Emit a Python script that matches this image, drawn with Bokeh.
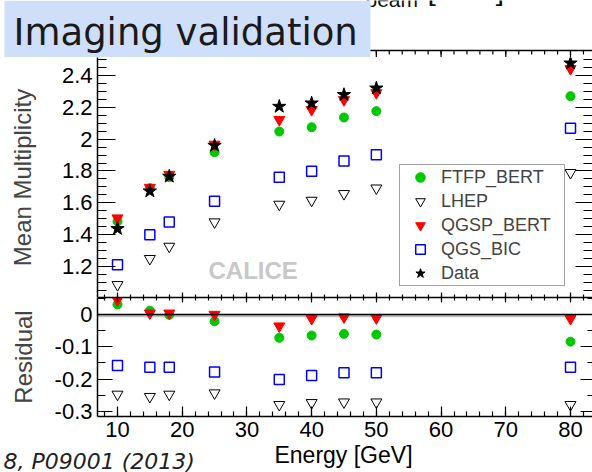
from bokeh.plotting import figure
from bokeh.layouts import column
from bokeh.models import (Range1d, LinearAxis, FixedTicker, CustomJSTickFormatter,
                          Label, Legend, LegendItem, Span)
from bokeh.core.properties import value
from bokeh.embed import file_html
from bokeh.resources import INLINE

# ---------------- data ----------------
energy = [10, 15, 18, 25, 35, 40, 45, 50, 80]

mult_ftfp_bert = [1.483, 1.692, 1.761, 1.918, 2.048, 2.075, 2.136, 2.176, 2.270]
mult_lhep      = [1.085, 1.249, 1.326, 1.479, 1.590, 1.615, 1.657, 1.692, 1.789]
mult_qgsp_bert = [1.504, 1.696, 1.778, 1.967, 2.122, 2.185, 2.247, 2.291, 2.442]
mult_qgs_bic   = [1.211, 1.399, 1.479, 1.610, 1.761, 1.799, 1.862, 1.902, 2.069]
mult_data      = [1.437, 1.673, 1.766, 1.960, 2.205, 2.226, 2.279, 2.320, 2.477]

res_ftfp_bert = [0.031, 0.012, -0.001, -0.021, -0.072, -0.065, -0.060, -0.062, -0.084]
res_lhep      = [-0.247, -0.254, -0.247, -0.243, -0.279, -0.273, -0.271, -0.271, -0.279]
res_qgsp_bert = [0.045, 0.004, 0.004, 0.000, -0.036, -0.013, -0.008, -0.011, -0.013]
res_qgs_bic   = [-0.158, -0.163, -0.163, -0.178, -0.201, -0.189, -0.180, -0.180, -0.163]

series_names = ["FTFP_BERT", "LHEP", "QGSP_BERT", "QGS_BIC", "Data"]

energy_ticks = [10, 20, 30, 40, 50, 60, 70, 80]
energy_minor = list(range(8, 84, 2))
mult_ticks = [1.2, 1.4, 1.6, 1.8, 2.0, 2.2, 2.4]
mult_minor = [round(1.05 + 0.05 * i, 2) for i in range(31)]
res_ticks = [-0.3, -0.2, -0.1, 0.0]
res_minor = [0.05, -0.05, -0.15, -0.25]

FONT = "Liberation Sans"
GREEN = "#00c800"
BOXBLUE = "#cfdffa"
fmt = CustomJSTickFormatter(code="return String(Math.round(tick*1000)/1000);")
nofmt = CustomJSTickFormatter(code="return '';")

W = 592
LEFT = 97          # left border of the panels (px)
HEAD_H = 57        # header strip height (px)


def style_axis(ax, ticks, minors, major_in, minor_in, labels=True, size="22px", standoff=3,
               line=True):
    ax.ticker = FixedTicker(ticks=ticks, minor_ticks=minors)
    ax.major_tick_in = major_in
    ax.major_tick_out = 0
    ax.minor_tick_in = minor_in
    ax.minor_tick_out = 0
    ax.axis_line_width = 1.5
    ax.axis_line_color = "black" if line else None
    ax.major_tick_line_width = 1.2
    ax.minor_tick_line_width = 1.2
    ax.major_tick_line_color = "black"
    ax.minor_tick_line_color = "black"
    if labels:
        ax.formatter = fmt
        ax.major_label_text_font = FONT
        ax.major_label_text_font_size = size
        ax.major_label_text_color = "black"
        ax.major_label_standoff = standoff
    else:
        ax.formatter = nofmt
        ax.major_label_text_font_size = "1px"
        ax.major_label_standoff = 0


x_range = Range1d(6.91, 83.40)
# the same energy scale, extended over the full page width (for the header strip)
span_e = (x_range.end - x_range.start) / (W - LEFT)
x_range_page = Range1d(x_range.start - LEFT * span_e, x_range.end)


def strip(height, y0, y1, **kw):
    f = figure(width=W, height=height, x_range=Range1d(0, W), y_range=Range1d(y1, y0),
               output_backend="svg", toolbar_location=None, min_border=0,
               x_axis_location=None, y_axis_location=None, frame_align=False,
               background_fill_color="white", border_fill_color="white", **kw)
    f.outline_line_color = None
    f.grid.visible = False
    return f


# ---------------- header strip (slide title box + top frame edge) ----------------
head = strip(HEAD_H, 0, HEAD_H, extra_x_ranges={"energy": x_range_page})
head.text(x=[365], y=[-1.4], text=["beam"], text_font=value(FONT), text_font_size=value("21px"),
          text_color="#111111", text_baseline="middle", text_align="left")
head.text(x=[427], y=[-11.5], text=["[GeV]"], text_font=value(FONT), text_font_size=value("30px"),
          text_color="#111111", text_baseline="middle", text_align="left")
# top edge of the ROOT frame with its downward ticks
head.line(x=[x_range.start, x_range.end], y=[50, 50], x_range_name="energy",
          line_color="black", line_width=1.5)
head.segment(x0=energy_minor, y0=[50] * len(energy_minor), x1=energy_minor,
             y1=[54] * len(energy_minor), x_range_name="energy", line_color="black",
             line_width=1.2)
head.segment(x0=energy_ticks, y0=[50] * len(energy_ticks), x1=energy_ticks,
             y1=[57] * len(energy_ticks), x_range_name="energy", line_color="black",
             line_width=1.2)
head.quad(left=[4], right=[370], top=[0], bottom=[HEAD_H], fill_color=BOXBLUE, line_color=None)
head.text(x=[13], y=[32], text=["Imaging validation"], text_font=value("DejaVu Sans"),
          text_font_size=value("37px"), text_color="#1a1a1a", text_baseline="middle",
          text_align="left")

# ---------------- upper panel ----------------
up = figure(width=W, height=297 - HEAD_H, x_range=x_range, y_range=Range1d(1.005, 2.513),
            output_backend="svg", toolbar_location=None,
            min_border_left=LEFT, min_border_right=0, min_border_top=0, min_border_bottom=0,
            background_fill_color="white", border_fill_color="white")
up.outline_line_color = None
up.grid.visible = False

style_axis(up.xaxis[0], energy_ticks, energy_minor, 5, 3, labels=False)
up.xaxis[0].axis_label = None
style_axis(up.yaxis[0], mult_ticks, mult_minor, 18, 9, labels=True, size="22px", standoff=5)
up.yaxis[0].axis_label = "Mean Multiplicity"
up.yaxis[0].axis_label_text_font = FONT
up.yaxis[0].axis_label_text_font_size = "24px"
up.yaxis[0].axis_label_text_font_style = "normal"
up.yaxis[0].axis_label_standoff = 23

right_ax = LinearAxis()
style_axis(right_ax, mult_ticks, mult_minor, 17, 9, labels=False, line=False)
up.add_layout(right_ax, "right")

r1 = up.scatter(energy, mult_ftfp_bert, marker="circle", size=9, fill_color=GREEN, line_color=GREEN)
r2 = up.scatter(energy, mult_lhep, marker="inverted_triangle", size=11, fill_color=None,
                line_color="black", line_width=1)
r3 = up.scatter(energy, mult_qgsp_bert, marker="inverted_triangle", size=11, fill_color="red",
                line_color="red")
r4 = up.scatter(energy, mult_qgs_bic, marker="square", size=10, fill_color=None,
                line_color="#0000ff", line_width=1.5)
r5 = up.scatter(energy, mult_data, marker="star", size=14, fill_color="black", line_color="black")

legend = Legend(items=[LegendItem(label=n, renderers=[r]) for n, r in
                       zip(series_names, [r1, r2, r3, r4, r5])],
                location=(302, 11), glyph_width=40, glyph_height=24, label_height=24,
                label_width=123, label_standoff=1, padding=0, spacing=0, margin=0,
                border_line_color="#444444", border_line_width=1.5,
                background_fill_color="white", background_fill_alpha=1.0,
                label_text_font=FONT, label_text_font_size="18px")
up.add_layout(legend)

up.add_layout(Label(x=111, y=27, x_units="screen", y_units="screen", text="CALICE",
                    text_font=FONT, text_font_size="24px", text_font_style="bold",
                    text_color="#c8c8c8", text_baseline="middle", text_align="left"))

# ---------------- lower panel ----------------
lo = figure(width=W, height=147, x_range=x_range, y_range=Range1d(-0.3155, 0.0526),
            output_backend="svg", toolbar_location=None,
            min_border_left=LEFT, min_border_right=0, min_border_top=0, min_border_bottom=28,
            background_fill_color="white", border_fill_color="white")
lo.outline_line_color = None
lo.grid.visible = False

style_axis(lo.xaxis[0], energy_ticks, energy_minor, 10, 5, labels=True, size="22px", standoff=5)
lo.xaxis[0].axis_label = None
style_axis(lo.yaxis[0], res_ticks, res_minor, 15, 8, labels=True, size="22px", standoff=5)
lo.yaxis[0].axis_label = "Residual"
lo.yaxis[0].axis_label_text_font = FONT
lo.yaxis[0].axis_label_text_font_size = "24px"
lo.yaxis[0].axis_label_text_font_style = "normal"
lo.yaxis[0].axis_label_standoff = 15

lo_top = LinearAxis()
style_axis(lo_top, energy_ticks, energy_minor, 5, 3, labels=False)
lo.add_layout(lo_top, "above")
lo_right = LinearAxis()
style_axis(lo_right, res_ticks, res_minor, 12, 5, labels=False, line=False)
lo.add_layout(lo_right, "right")

lo.line([x_range.start, 79.5], [-0.004, -0.004], line_width=3, line_color="#c0c0c0")
lo.add_layout(Span(location=0, dimension="width", line_color="black", line_width=1.5))

lo.scatter(energy, res_ftfp_bert, marker="circle", size=9, fill_color=GREEN, line_color=GREEN)
lo.scatter(energy, res_lhep, marker="inverted_triangle", size=11, fill_color=None,
           line_color="black", line_width=1)
lo.scatter(energy, res_qgsp_bert, marker="inverted_triangle", size=11, fill_color="red",
           line_color="red")
lo.scatter(energy, res_qgs_bic, marker="square", size=10, fill_color=None,
           line_color="#0000ff", line_width=1.5)

# ---------------- footer strip (axis title + citation) ----------------
foot = strip(28, 444, 472)
foot.text(x=[343], y=[454], text=["Energy [GeV]"], text_font=value(FONT),
          text_font_size=value("23px"), text_color="black", text_align="center",
          text_baseline="middle")
foot.text(x=[3], y=[461.4], text=["8, P09001 (2013)"], text_font=value("DejaVu Sans"),
          text_font_size=value("22px"), text_font_style="italic", text_color="#222222",
          text_align="left", text_baseline="middle")

layout = column(head, up, lo, foot, spacing=0)
open("out.html", "w").write(file_html(layout, INLINE))
